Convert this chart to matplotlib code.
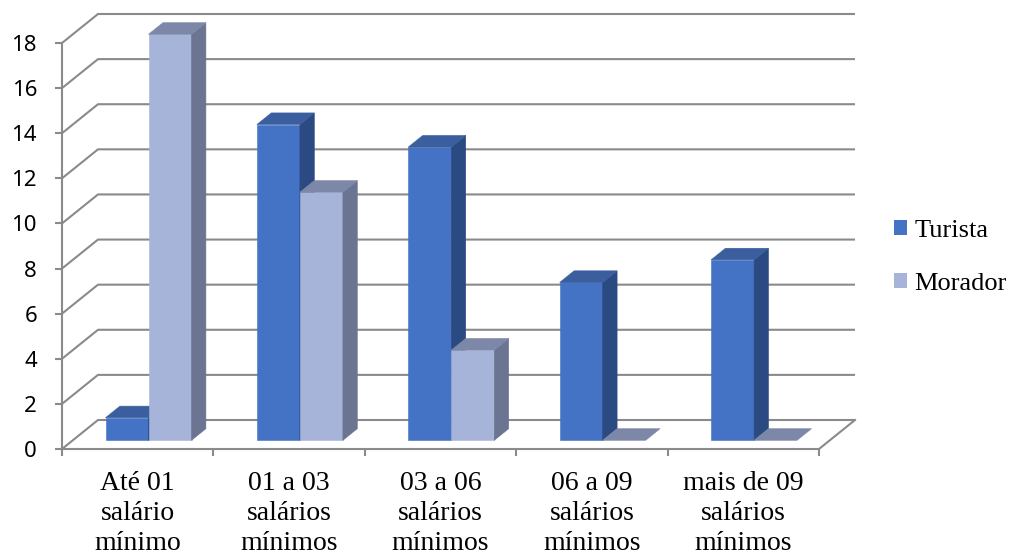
import numpy as np
import matplotlib.pyplot as plt
from matplotlib.patches import Polygon, Patch

# categorias de renda e contagens por grupo
categorias = ['Até 01\nsalário\nmínimo', '01 a 03\nsalários\nmínimos', '03 a 06\nsalários\nmínimos',
              '06 a 09\nsalários\nmínimos', 'mais de 09\nsalários\nmínimos']
turista = [1, 14, 13, 7, 8]
morador = [18, 11, 4, 0, 0]
yticks = np.arange(0, 19, 2)

# cores das faces (frente, topo, lateral)
cor_turista = ('#4472C4', '#3A5E9E', '#2C4A82')
cor_morador = ('#A7B4DA', '#7D88A8', '#6B7592')
cor_grade = '#8A8A8A'

W, H = 1009, 553
fig = plt.figure(figsize=(W / 100, H / 100), dpi=100)
x0, x1, y0, y1 = 62, 819, 449, 43
ax = fig.add_axes([x0 / W, 1 - y0 / H, (x1 - x0) / W, (y0 - y1) / H])
n = len(categorias)
ax.set_xlim(0, n)
ax.set_ylim(0, 18)

# deslocamento de profundidade (parede do fundo) em unidades de dados
DX = 36 / ((x1 - x0) / n)
DY = 29 / ((y0 - y1) / 18)


def proj(x, v, d):
    return (x + d * DX, v + d * DY)


# grade: diagonais na parede lateral e linhas horizontais no fundo
for v in yticks:
    a = proj(0, v, 0)
    b = proj(0, v, 1)
    c = proj(n, v, 1)
    ax.plot([a[0], b[0], c[0]], [a[1], b[1], c[1]], color=cor_grade, lw=1.5,
            clip_on=False, zorder=1, solid_capstyle='butt')
# borda direita do piso
a = proj(n, 0, 0)
b = proj(n, 0, 1)
ax.plot([a[0], b[0]], [a[1], b[1]], color=cor_grade, lw=1.5, clip_on=False, zorder=1)


def barra(xa, xb, v, cores, d0=0.3, d1=0.7):
    frente, topo, lado = cores
    faces = []
    if v > 0:
        faces.append(([proj(xa, 0, d0), proj(xb, 0, d0), proj(xb, v, d0), proj(xa, v, d0)], frente))
        faces.append(([proj(xb, 0, d0), proj(xb, 0, d1), proj(xb, v, d1), proj(xb, v, d0)], lado))
    faces.append(([proj(xa, v, d0), proj(xb, v, d0), proj(xb, v, d1), proj(xa, v, d1)], topo))
    for pts, cor in faces:
        ax.add_patch(Polygon(pts, closed=True, facecolor=cor, edgecolor=cor, lw=0.4,
                             clip_on=False, zorder=3))


w = 43 / ((x1 - x0) / n)
for i in range(n):
    meio = i + 0.5
    barra(meio - w, meio, turista[i], cor_turista)
    barra(meio, meio + w, morador[i], cor_morador)

# eixos
for s in ['top', 'right']:
    ax.spines[s].set_visible(False)
for s in ['left', 'bottom']:
    ax.spines[s].set_color(cor_grade)
    ax.spines[s].set_linewidth(1.5)
ax.set_facecolor('none')

ax.set_yticks(yticks)
ax.set_yticklabels([str(t) for t in yticks], fontsize=16, family='Noto Sans')
ax.tick_params(axis='y', length=5, width=1.5, color=cor_grade, pad=13)

ax.set_xticks(np.arange(0, n + 1))
ax.set_xticklabels([])
ax.tick_params(axis='x', which='major', length=5, width=1.5, color=cor_grade, direction='out')
ax.set_xticks(np.arange(n) + 0.5, minor=True)
ax.set_xticklabels(categorias, minor=True, fontsize=20, family='Liberation Serif', linespacing=1.27)
ax.tick_params(axis='x', which='minor', length=0, pad=16)

# legenda
handles = [Patch(facecolor=cor_turista[0], label='Turista'),
           Patch(facecolor=cor_morador[0], label='Morador')]
fig.legend(handles=handles, loc='center left', bbox_to_anchor=(894 / W, 1 - 257.5 / H),
           frameon=False, prop={'family': 'Liberation Serif', 'size': 19},
           handlelength=0.5, handleheight=0.5, handletextpad=0.28, labelspacing=1.15,
           borderpad=0, borderaxespad=0)

fig.savefig('out.png', dpi=100)
